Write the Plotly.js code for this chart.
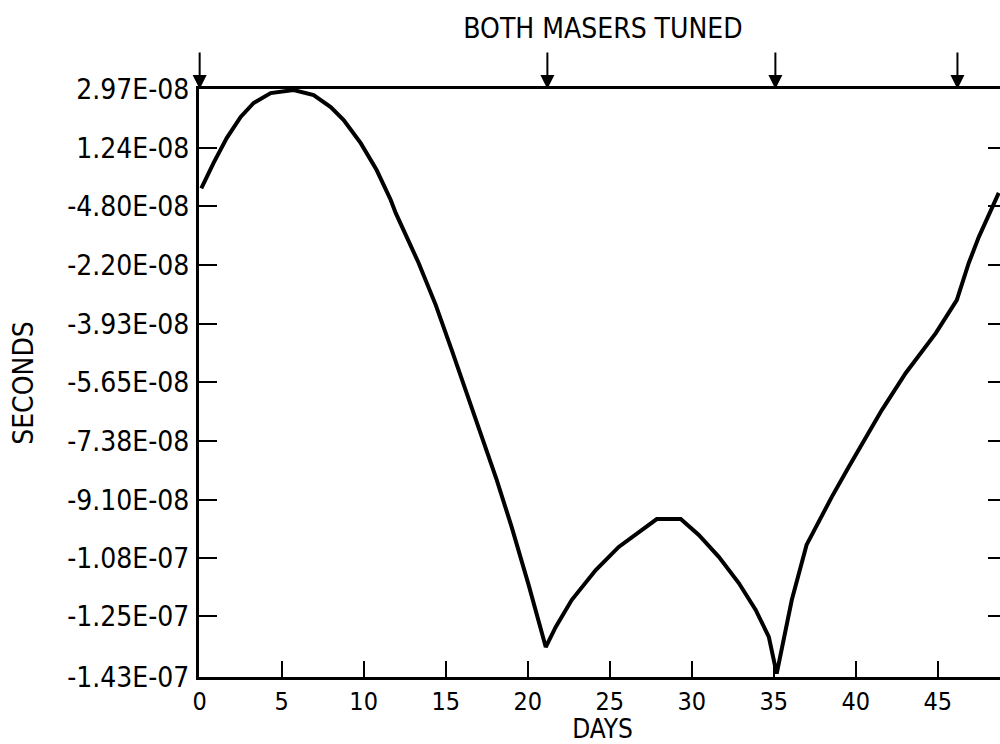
<!DOCTYPE html>
<html>
<head>
<meta charset="utf-8">
<script src="https://cdn.plot.ly/plotly-3.0.1.min.js"></script>
<style>
html, body { margin: 0; padding: 0; overflow: hidden; background: #fff; }
#chart { width: 1010px; height: 744px; }
</style>
</head>
<body>
<div id="chart"></div>
<script>
// Days since start
const days = [0.1, 0.85, 1.65, 2.5, 3.29, 4.33, 5.73, 6.95, 7.99, 8.78, 9.82, 10.79, 11.65, 11.95, 13.35, 14.39, 15.37, 16.28, 17.2, 18.11, 19.02, 20.06, 21.1,
              21.71, 22.68, 24.15, 25.55, 26.77, 27.87, 29.33, 30.43, 31.65, 32.87, 33.9, 34.7, 35.18,
              36.1, 37.0, 37.56, 38.54, 39.57, 40.61, 41.59, 43.05, 44.88, 46.16, 46.89, 47.5, 48.72];
// Time difference (seconds)
const seconds = [0.05e-8, 0.80e-8, 1.53e-8, 2.15e-8, 2.56e-8, 2.85e-8, 2.94e-8, 2.79e-8, 2.44e-8, 2.06e-8, 1.38e-8, 0.59e-8, -0.29e-8, -0.67e-8, -2.14e-8, -3.37e-8, -4.70e-8, -5.96e-8, -7.19e-8, -8.51e-8, -9.89e-8, -11.60e-8, -13.42e-8,
                 -12.83e-8, -12.04e-8, -11.16e-8, -10.48e-8, -10.04e-8, -9.66e-8, -9.66e-8, -10.13e-8, -10.77e-8, -11.54e-8, -12.33e-8, -13.12e-8, -14.2e-8,
                 -12.04e-8, -10.42e-8, -9.89e-8, -9.01e-8, -8.13e-8, -7.28e-8, -6.46e-8, -5.37e-8, -4.20e-8, -3.23e-8, -2.14e-8, -1.38e-8, -0.08e-8];

const yTickVals = [2.97e-8, 1.24e-8, -0.48e-8, -2.20e-8, -3.93e-8, -5.65e-8, -7.38e-8, -9.10e-8, -1.08e-7, -1.25e-7, -1.43e-7];
const yTickText = ["2.97E-08", "1.24E-08", "-4.80E-08", "-2.20E-08", "-3.93E-08", "-5.65E-08", "-7.38E-08", "-9.10E-08", "-1.08E-07", "-1.25E-07", "-1.43E-07"];
const xTickVals = [0, 5, 10, 15, 20, 25, 30, 35, 40, 45];
const xTickText = ["0", "5", "10", "15", "20", "25", "30", "35", "40", "45"];

// Days at which both masers were tuned (arrows)
const tunedDays = [0, 21.2, 35.1, 46.2];

const FONT = "'DejaVu Sans Condensed', 'Liberation Sans Narrow', 'Arial Narrow', sans-serif";

const trace = {
  x: days,
  y: seconds,
  type: 'scatter',
  mode: 'lines',
  line: { color: '#000', width: 4, shape: 'linear' },
  hoverinfo: 'skip'
};

const annotations = tunedDays.map(d => ({
  x: d, y: 2.97e-8, xref: 'x', yref: 'y',
  text: '', showarrow: true,
  arrowhead: 2, arrowsize: 1.4, arrowwidth: 2, arrowcolor: '#000',
  ax: 0, ay: -38, standoff: 0
}));

const layout = {
  width: 1010,
  height: 744,
  margin: { l: 199, r: 4, t: 89, b: 67 },
  paper_bgcolor: '#fff',
  plot_bgcolor: '#fff',
  showlegend: false,
  font: { family: FONT, color: '#000', size: 26 },
  title: {
    text: 'BOTH MASERS TUNED',
    font: { family: FONT, size: 28, color: '#000' },
    x: 0.597, xanchor: 'center',
    y: 0.962, yanchor: 'middle'
  },
  xaxis: {
    range: [-0.04, 49.16],
    tickmode: 'array',
    tickvals: xTickVals,
    ticktext: xTickText,
    ticks: 'inside',
    ticklen: 16,
    tickwidth: 2,
    tickcolor: '#000',
    showline: true,
    linecolor: '#000',
    linewidth: 3,
    mirror: true,
    showgrid: false,
    zeroline: false,
    tickfont: { family: FONT, size: 25, color: '#000' },
    ticklabelstandoff: 0,
    title: { text: 'DAYS', font: { family: FONT, size: 26, color: '#000' }, standoff: 4 }
  },
  yaxis: {
    range: [-1.43e-7, 2.97e-8],
    tickmode: 'array',
    tickvals: yTickVals,
    ticktext: yTickText,
    ticks: 'inside',
    ticklen: 18,
    tickwidth: 2,
    tickcolor: '#000',
    showline: true,
    linecolor: '#000',
    linewidth: 3,
    mirror: 'ticks',
    showgrid: false,
    zeroline: false,
    tickfont: { family: FONT, size: 28, color: '#000' },
    ticklabelstandoff: 1,
    title: { text: 'SECONDS', font: { family: FONT, size: 28, color: '#000' }, standoff: 26 }
  },
  annotations: annotations
};

Plotly.newPlot('chart', [trace], layout, { displayModeBar: false, staticPlot: true });
</script>
</body>
</html>
